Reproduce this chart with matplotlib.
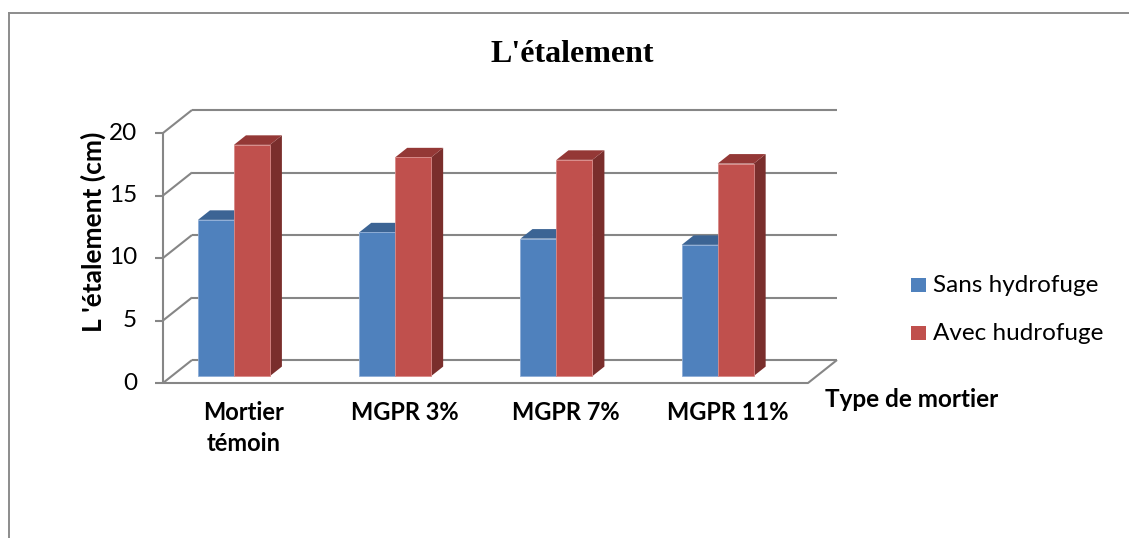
import matplotlib
matplotlib.use("Agg")
import matplotlib.pyplot as plt
from matplotlib.patches import Polygon, Rectangle
from matplotlib.lines import Line2D

# ---- data ----
categories = ["Mortier\ntémoin", "MGPR 3%", "MGPR 7%", "MGPR 11%"]
series_names = ["Sans hydrofuge", "Avec hudrofuge"]
sans_hydrofuge = [12.5, 11.5, 11.0, 10.5]
avec_hydrofuge = [18.5, 17.5, 17.3, 17.0]
y_ticks = [0, 5, 10, 15, 20]

W, H = 1129, 538
fig = plt.figure(figsize=(W / 100, H / 100), dpi=100)
fig.patch.set_facecolor("white")

SANS = ["Lato", "DejaVu Sans"]
SERIF = ["Liberation Serif", "DejaVu Serif"]

def fxy(px, py):
    return px / W, 1 - py / H

# outer chart frame (top and left edges visible)
fig.add_artist(Line2D([8.5 / W, 1.0], [1 - 12.5 / H] * 2, color="#8c8c8c", lw=1.4,
                      transform=fig.transFigure))
fig.add_artist(Line2D([8.5 / W] * 2, [0, 1 - 12.5 / H], color="#8c8c8c", lw=1.4,
                      transform=fig.transFigure))

# front plane of the plot box
ax = fig.add_axes([163 / W, 1 - 383 / H, 645 / W, 250 / H])
ax.set_xlim(0, len(categories))
ax.set_ylim(0, 20)
ax.axis("off")

# oblique depth offsets (data units for a full unit of depth)
DX = 29 / 161.25
DY = 23 / 12.5

def proj(x, v, d):
    return (x + d * DX, v + d * DY)

grid_kw = dict(color="#868686", lw=1.5, solid_capstyle="butt", clip_on=False, zorder=1)
n = len(categories)
for v in y_ticks:
    a, b = proj(0, v, 1), proj(n, v, 1)
    ax.plot([a[0], b[0]], [a[1], b[1]], **grid_kw)
    c, d = proj(0, v, 0), proj(0, v, 1)
    ax.plot([c[0], d[0]], [c[1], d[1]], **grid_kw)
    # tick mark on the front value axis
    ax.plot([0, -8 / 161.25], [v, v], **grid_kw)

# floor front and right edges
p0, p1, p2 = proj(0, 0, 0), proj(n, 0, 0), proj(n, 0, 1)
ax.plot([p0[0], p1[0], p2[0]], [p0[1], p1[1], p2[1]], **grid_kw)
# value axis line
ax.plot([0, 0], [0, 20], **grid_kw)

# bars
D0, D1 = 0.30, 0.714
BW = 0.223
offsets = [0.163, 0.386]
face_cols = ["#4F81BD", "#C0504D"]
top_cols = ["#3C6494", "#943836"]
side_cols = ["#36587F", "#7A2E2C"]
edge_cols = ["#8EADD6", "#D98A88"]

for i in range(n):
    for s, vals in enumerate([sans_hydrofuge, avec_hydrofuge]):
        v = vals[i]
        x0 = i + offsets[s]
        x1 = x0 + BW
        side = [proj(x1, 0, D0), proj(x1, 0, D1), proj(x1, v, D1), proj(x1, v, D0)]
        top = [proj(x0, v, D0), proj(x1, v, D0), proj(x1, v, D1), proj(x0, v, D1)]
        front = [proj(x0, 0, D0), proj(x1, 0, D0), proj(x1, v, D0), proj(x0, v, D0)]
        z = 2 + i * 2 + s
        ax.add_patch(Polygon(side, closed=True, fc=side_cols[s], ec="none", zorder=z, clip_on=False))
        ax.add_patch(Polygon(top, closed=True, fc=top_cols[s], ec="none", zorder=z, clip_on=False))
        ax.add_patch(Polygon(front, closed=True, fc=face_cols[s], ec=edge_cols[s], lw=0.6,
                             zorder=z, clip_on=False))

# value tick labels
for v in y_ticks:
    xt, yt = ax.transData.transform((0, v))
    fig.text(137 / W, yt / H, str(v), ha="right", va="center", fontsize=17.5,
             family=SANS, color="black")

# category labels
for i, lab in enumerate(categories):
    xt, _ = ax.transData.transform((i + 0.5, 0))
    fig.text(xt / W, 1 - 401 / H, lab, ha="center", va="top", fontsize=17,
             fontweight="bold", family=SANS, linespacing=1.4, color="black")

# axis titles
fig.text(*fxy(825, 407), "Type de mortier", ha="left", va="baseline", fontsize=17.5,
         fontweight="bold", family=SANS)
fig.text(*fxy(93, 232), "L 'étalement (cm)", ha="center", va="center", rotation=90,
         fontsize=19, fontweight="bold", family=SANS)

# chart title
fig.text(*fxy(572, 62), "L'étalement", ha="center", va="baseline", fontsize=23,
         fontweight="bold", family=SERIF)

# legend
for k, (name, col) in enumerate(zip(series_names, face_cols)):
    base = 292 + k * 48
    fig.add_artist(Rectangle(fxy(911, base), 15 / W, 14 / H, transform=fig.transFigure,
                             fc=col, ec="none"))
    fig.text(*fxy(933, base), name, ha="left", va="baseline", fontsize=17.5, family=SANS)

fig.savefig("out.png", dpi=100)
